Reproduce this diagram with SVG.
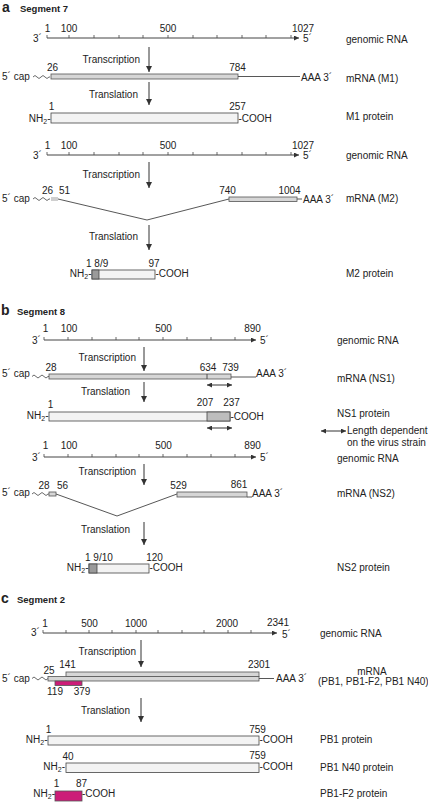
<svg xmlns="http://www.w3.org/2000/svg" width="428" height="803" viewBox="0 0 428 803">
<defs>
<marker id="ah" markerUnits="userSpaceOnUse" markerWidth="6" markerHeight="6" refX="6" refY="3" orient="auto-start-reverse"><path d="M0,0 L6,3 L0,6 z" fill="#333"/></marker>
<marker id="sh" markerUnits="userSpaceOnUse" markerWidth="5" markerHeight="5" refX="5" refY="2.5" orient="auto-start-reverse"><path d="M0,0 L5,2.5 L0,5 z" fill="#333"/></marker>
</defs>
<style>
text{font-family:"Liberation Sans",Arial,sans-serif;font-size:10px;fill:#222}
.h{font-weight:bold;font-size:9.5px}
.hl{font-weight:bold;font-size:14px}
.m{text-anchor:middle}
.e{text-anchor:end}
.ax{stroke:#444;stroke-width:1;fill:none}
.tk{stroke:#444;stroke-width:0.8}
.ar{stroke:#333;stroke-width:1;marker-end:url(#ah)}
.da{stroke:#333;stroke-width:1;marker-start:url(#sh);marker-end:url(#sh)}
.ln{stroke:#444;stroke-width:0.9;fill:none}
.mr{fill:#d6d6d6;stroke:#555;stroke-width:0.8}
.pr{fill:#f3f3f3;stroke:#444;stroke-width:0.8}
.dk{fill:#9a9a9a;stroke:#444;stroke-width:0.8}
.md{fill:#bdbdbd;stroke:#444;stroke-width:0.8}
.mg{fill:#cc1d78;stroke:#555;stroke-width:0.8}
.wv{stroke:#444;stroke-width:0.8;fill:none}
.sub{font-size:7px}
</style>

<!-- Segment 7 -->
<g id="seg7-title"><text class="hl" x="2" y="12">a</text><text class="h" x="20" y="12">Segment 7</text></g>

<g id="seg7-genomic1">
<path class="ax" d="M47,38 H299" marker-end="url(#sh)"/>
<path class="tk" d="M47,35V38M69,35V38M94,35V38M119,35V38M143,35V38M168,35V38M193,35V38M217,35V38M242,35V38M266,35V38M291,35V38"/>
<text x="33" y="42">3´</text><text x="303" y="42">5´</text>
<text class="m" x="47.5" y="32">1</text><text class="m" x="69" y="32">100</text><text class="m" x="168" y="32">500</text><text class="m" x="303" y="31.5">1027</text>
<text x="346" y="43">genomic RNA</text>
</g>

<g id="seg7-m1mrna">
<path class="wv" d="M33,77 q2,-3 4,0 t4,0 t4,0 t4,0 l1,0"/>
<rect class="mr" x="51" y="74" width="187" height="5"/>
<path class="ln" d="M238,76.5 H300"/>
<text x="2" y="80">5´ cap</text>
<text class="m" x="52.5" y="71">26</text><text class="m" x="237.5" y="71">784</text>
<text x="301" y="80.5">AAA 3´</text>
<text x="346" y="82">mRNA (M1)</text>
</g>

<g id="seg7-m1protein">
<rect class="pr" x="51" y="113" width="187" height="10"/>
<text class="m" x="51.5" y="110">1</text><text class="m" x="237.5" y="110">257</text>
<text class="e" x="50.5" y="122">NH<tspan class="sub" dy="2">2</tspan><tspan dy="-2">-</tspan></text>
<text x="238.5" y="122">-COOH</text>
<text x="346" y="120">M1 protein</text>
</g>

<g id="seg7-genomic2">
<path class="ax" d="M47,155 H299" marker-end="url(#sh)"/>
<path class="tk" d="M47,152V155M69,152V155M94,152V155M119,152V155M143,152V155M168,152V155M193,152V155M217,152V155M242,152V155M266,152V155M291,152V155"/>
<text x="33" y="159">3´</text><text x="303" y="159">5´</text>
<text class="m" x="47.5" y="149">1</text><text class="m" x="69" y="149">100</text><text class="m" x="168" y="149">500</text><text class="m" x="303" y="148.5">1027</text>
<text x="346" y="159">genomic RNA</text>
</g>

<g id="seg7-m2mrna">
<path class="wv" d="M33,199 q2,-3 4,0 t4,0 t4,0 t4,0 l1,0"/>
<rect x="51" y="197" width="7" height="4" fill="#cfcfcf"/>
<path class="ln" d="M58,199 L147,220 L229,199"/>
<rect class="mr" x="229" y="197" width="68" height="4.5"/>
<path class="ln" d="M297,199 H302"/>
<text x="2" y="202">5´ cap</text>
<text class="m" x="47.5" y="194">26</text><text class="m" x="64.5" y="194">51</text>
<text class="m" x="227.5" y="194">740</text><text class="m" x="289.5" y="194">1004</text>
<text x="303" y="202.5">AAA 3´</text>
<text x="346" y="202">mRNA (M2)</text>
</g>

<g id="seg7-m2protein">
<rect class="pr" x="92" y="270" width="63" height="9"/>
<rect class="dk" x="92" y="270" width="7" height="9"/>
<text x="86" y="267">1 8/9</text><text class="m" x="154" y="267">97</text>
<text class="e" x="91.5" y="277">NH<tspan class="sub" dy="2">2</tspan><tspan dy="-2">-</tspan></text>
<text x="155.5" y="277">-COOH</text>
<text x="346" y="277">M2 protein</text>
</g>

<!-- Segment 8 -->
<g id="seg8-title"><text class="hl" x="1" y="315">b</text><text class="h" x="17" y="315">Segment 8</text></g>

<g id="seg8-genomic1">
<path class="ax" d="M44,340 H256" marker-end="url(#sh)"/>
<path class="tk" d="M44,337V340M68,337V340M92,337V340M116,337V340M139,337V340M163,337V340M187,337V340M211,337V340M235,337V340"/>
<text x="32" y="344">3´</text><text x="260" y="344">5´</text>
<text class="m" x="45.5" y="332">1</text><text class="m" x="69" y="332">100</text><text class="m" x="163.5" y="332">500</text><text class="m" x="252.5" y="332">890</text>
<text x="337" y="344">genomic RNA</text>
</g>

<g id="seg8-ns1mrna">
<path class="wv" d="M32,376.5 q2,-3 4,0 t4,0 t4,0 t4,0 l1,0"/>
<rect class="mr" x="49" y="374" width="182" height="5"/>
<path class="ln" d="M207,374 V379"/>
<path class="ln" d="M231,377 H256"/>
<text x="2" y="377">5´ cap</text>
<text class="m" x="51" y="371">28</text><text class="m" x="208" y="371">634</text><text class="m" x="230.5" y="371">739</text>
<text x="256" y="377">AAA 3´</text>
<text x="337" y="382">mRNA (NS1)</text>
</g>

<g id="seg8-ns1protein">
<rect class="pr" x="49" y="412" width="181" height="9"/>
<rect class="md" x="207" y="412" width="23" height="9"/>
<text class="m" x="50.5" y="408">1</text><text class="m" x="205" y="406">207</text><text class="m" x="231.5" y="406">237</text>
<text class="e" x="48.5" y="419">NH<tspan class="sub" dy="2">2</tspan><tspan dy="-2">-</tspan></text>
<text x="230.5" y="420">-COOH</text>
<text x="337" y="417">NS1 protein</text>
</g>

<g id="seg8-legend">
<line class="da" x1="321" y1="431" x2="346" y2="431"/>
<text x="347" y="434">Length dependent</text>
<text x="347" y="446">on the virus strain</text>
</g>

<g id="seg8-genomic2">
<path class="ax" d="M44,457 H256" marker-end="url(#sh)"/>
<path class="tk" d="M44,454V457M68,454V457M92,454V457M116,454V457M139,454V457M163,454V457M187,454V457M211,454V457M235,454V457"/>
<text x="32" y="461">3´</text><text x="260" y="461">5´</text>
<text class="m" x="45.5" y="449">1</text><text class="m" x="69" y="449">100</text><text class="m" x="163.5" y="449">500</text><text class="m" x="252.5" y="449">890</text>
<text x="337" y="462">genomic RNA</text>
</g>

<g id="seg8-ns2mrna">
<path class="wv" d="M32,494 q2,-3 4,0 t4,0 t4,0 t4,0 l1,0"/>
<rect class="mr" x="49" y="492" width="7" height="4"/>
<path class="ln" d="M56,494 L117,516 L177,494"/>
<rect class="mr" x="177" y="492" width="70" height="5"/>
<path class="ln" d="M247,497 H252"/>
<text x="2" y="496">5´ cap</text>
<text class="m" x="44" y="489">28</text><text class="m" x="62.5" y="489">56</text>
<text class="m" x="178.5" y="489">529</text><text class="m" x="239" y="488">861</text>
<text x="252" y="496.5">AAA 3´</text>
<text x="337" y="497">mRNA (NS2)</text>
</g>

<g id="seg8-ns2protein">
<rect class="pr" x="89" y="564" width="60" height="9"/>
<rect class="dk" x="89" y="564" width="8" height="9"/>
<text x="85" y="561">1 9/10</text><text class="m" x="154.5" y="561">120</text>
<text class="e" x="88.5" y="571">NH<tspan class="sub" dy="2">2</tspan><tspan dy="-2">-</tspan></text>
<text x="149.5" y="571">-COOH</text>
<text x="337" y="571">NS2 protein</text>
</g>

<!-- Segment 2 -->
<g id="seg2-title"><text class="hl" x="1" y="603">c</text><text class="h" x="17" y="603">Segment 2</text></g>

<g id="seg2-genomic">
<path class="ax" d="M43,633 H277" marker-end="url(#sh)"/>
<path class="tk" d="M43,630V633M66,630V633M89,630V633M112,630V633M136,630V633M158,630V633M182,630V633M204,630V633M228,630V633M251,630V633"/>
<text x="31" y="636">3´</text><text x="282" y="637.5">5´</text>
<text class="m" x="45" y="627">1</text><text class="m" x="89.5" y="627">500</text><text class="m" x="136" y="627">1000</text><text class="m" x="227" y="627">2000</text><text class="m" x="278" y="625.5">2341</text>
<text x="320" y="637">genomic RNA</text>
</g>

<g id="seg2-mrna">
<path class="wv" d="M32,678.5 q2,-3 4,0 t4,0 t4,0 t4,0"/>
<rect class="mr" x="66" y="672" width="193" height="4.5"/>
<rect class="mr" x="48" y="676.5" width="211" height="4.5"/>
<rect class="mg" x="55" y="681" width="27" height="4.5"/>
<path class="ln" d="M259,678.5 H274"/>
<text x="2" y="682">5´ cap</text>
<text class="m" x="49" y="674">25</text><text class="m" x="67.5" y="668">141</text><text class="m" x="259" y="668">2301</text>
<text class="m" x="55" y="695">119</text><text class="m" x="82" y="695">379</text>
<text x="276" y="682">AAA 3´</text>
<text class="m" x="372" y="675">mRNA</text>
<text x="318" y="685">(PB1, PB1-F2, PB1 N40)</text>
</g>

<g id="seg2-pb1">
<rect class="pr" x="48" y="736" width="211" height="9"/>
<text class="m" x="48.5" y="733">1</text><text class="m" x="257.5" y="733">759</text>
<text class="e" x="47.5" y="743">NH<tspan class="sub" dy="2">2</tspan><tspan dy="-2">-</tspan></text>
<text x="259.5" y="743">-COOH</text>
<text x="320" y="743">PB1 protein</text>
</g>

<g id="seg2-pb1n40">
<rect class="pr" x="66" y="763" width="193" height="9.5"/>
<text class="m" x="68" y="760">40</text><text class="m" x="257.5" y="759">759</text>
<text class="e" x="65" y="770">NH<tspan class="sub" dy="2">2</tspan><tspan dy="-2">-</tspan></text>
<text x="259.5" y="770">-COOH</text>
<text x="320" y="771">PB1 N40 protein</text>
</g>

<g id="seg2-pb1f2">
<rect class="mg" x="55" y="791" width="27" height="10"/>
<text class="m" x="56.5" y="787">1</text><text class="m" x="81.5" y="787">87</text>
<text class="e" x="55" y="797">NH<tspan class="sub" dy="2">2</tspan><tspan dy="-2">-</tspan></text>
<text x="82" y="797">-COOH</text>
<text x="320" y="797">PB1-F2 protein</text>
</g>

<g id="connectors">
<line class="ar" x1="149" y1="47" x2="149" y2="72"/>
<text class="e" x="140" y="63">Transcription</text>
<line class="ar" x1="149" y1="82" x2="149" y2="105"/>
<text class="e" x="138" y="98">Translation</text>
<line class="ar" x1="149" y1="162" x2="149" y2="188"/>
<text class="e" x="140" y="178">Transcription</text>
<line class="ar" x1="149" y1="225" x2="149" y2="250"/>
<text class="e" x="138" y="240">Translation</text>

<line class="ar" x1="144" y1="347" x2="144" y2="371"/>
<text class="e" x="136" y="361">Transcription</text>
<line class="ar" x1="144" y1="382" x2="144" y2="402"/>
<text class="e" x="130" y="395">Translation</text>
<line class="da" x1="207" y1="385" x2="232" y2="385"/>
<line class="da" x1="207" y1="428" x2="232" y2="428"/>
<line class="ar" x1="144" y1="464" x2="144" y2="485"/>
<text class="e" x="136" y="475">Transcription</text>
<line class="ar" x1="144" y1="522" x2="144" y2="545"/>
<text class="e" x="130" y="533">Translation</text>

<line class="ar" x1="141" y1="640" x2="141" y2="667"/>
<text class="e" x="136" y="655">Transcription</text>
<line class="ar" x1="141" y1="698" x2="141" y2="722"/>
<text class="e" x="130" y="714">Translation</text>
</g>
</svg>
